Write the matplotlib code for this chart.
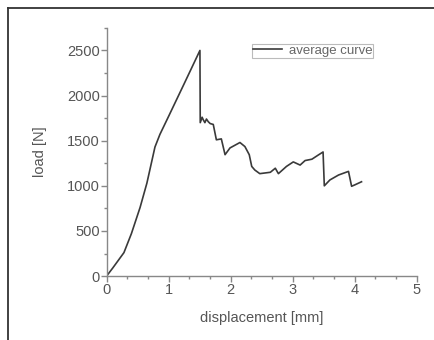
import matplotlib
matplotlib.use("Agg")
import matplotlib.pyplot as plt
from matplotlib.lines import Line2D
from matplotlib.ticker import MultipleLocator

plt.rcParams['font.family'] = ['Liberation Sans', 'DejaVu Sans']

# average curve: displacement [mm], load [N]
disp = [0.0, 0.10, 0.28, 0.40, 0.54, 0.65, 0.78, 0.86, 1.00, 1.25, 1.505,
        1.51, 1.54, 1.56, 1.585, 1.61, 1.64, 1.67, 1.72, 1.77, 1.85, 1.91,
        1.99, 2.15, 2.23, 2.30, 2.34, 2.39, 2.47, 2.64, 2.72, 2.77, 2.90,
        3.01, 3.12, 3.20, 3.31, 3.41, 3.49, 3.51, 3.60, 3.74, 3.90, 3.95,
        4.00, 4.11]
load = [0, 90, 260, 470, 760, 1030, 1430, 1570, 1770, 2130, 2500,
        1700, 1760, 1730, 1700, 1740, 1710, 1690, 1680, 1510, 1520, 1345,
        1420, 1480, 1435, 1345, 1215, 1175, 1135, 1150, 1195, 1135, 1215,
        1265, 1230, 1280, 1295, 1340, 1375, 1000, 1065, 1120, 1160, 995,
        1010, 1045]

fig = plt.figure(figsize=(4.35, 3.4), dpi=100)
ax = fig.add_axes([0.245, 0.188, 0.713, 0.730])

ax.plot(disp, load, color='#3a3a3a', lw=1.2, label='average curve')

ax.set_xlim(0, 5)
ax.set_ylim(0, 2750)
ax.xaxis.set_major_locator(MultipleLocator(1))
ax.xaxis.set_minor_locator(MultipleLocator(1 / 3))
ax.yaxis.set_major_locator(MultipleLocator(500))
ax.yaxis.set_minor_locator(MultipleLocator(250))

for side in ['top', 'right']:
    ax.spines[side].set_visible(False)
for side in ['left', 'bottom']:
    ax.spines[side].set_color('#888888')
    ax.spines[side].set_linewidth(1.0)

ax.tick_params(which='major', direction='out', length=4, width=1,
               color='#888888', labelcolor='#555555', labelsize=10.5, pad=1)
ax.tick_params(which='minor', direction='out', length=2.5, width=1,
               color='#888888')

ax.set_xlabel('displacement [mm]', color='#555555', fontsize=10.5, labelpad=10)
ax.set_ylabel('load [N]', color='#555555', fontsize=10.5, labelpad=14)

leg = ax.legend(loc='upper left', bbox_to_anchor=(0.47, 0.935),
                fontsize=9.5, handlelength=2.2, handletextpad=0.5,
                borderpad=0.05, borderaxespad=0, fancybox=False,
                framealpha=1)
leg.get_frame().set_edgecolor('#bbbbbb')
leg.get_frame().set_linewidth(0.8)
for t in leg.get_texts():
    t.set_color('#666666')

# figure border, only left and top edges show
x0 = 8.5 / 435
y0 = 1 - 7.5 / 340
fig.add_artist(Line2D([x0, x0], [0, y0], color='#333333', lw=1.3))
fig.add_artist(Line2D([x0, 1], [y0, y0], color='#333333', lw=1.3))

fig.savefig('out.png', dpi=100)
